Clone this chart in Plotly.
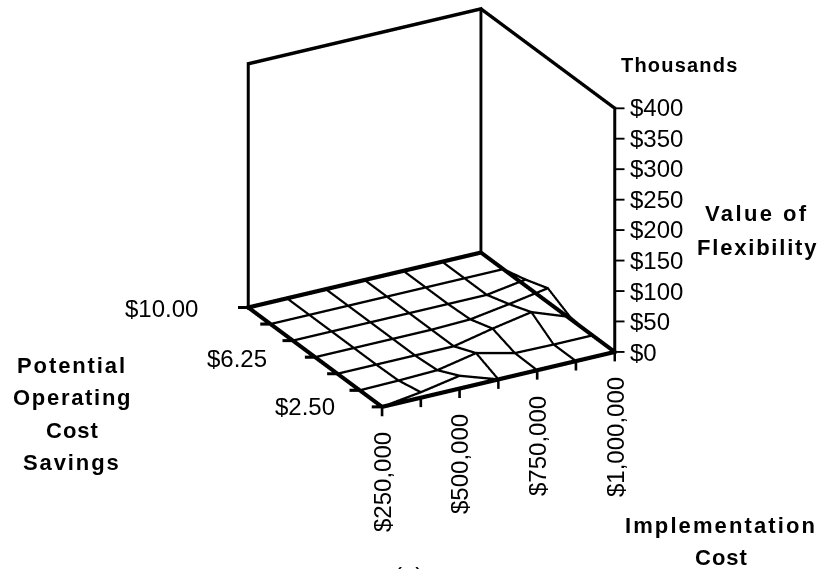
import math
import plotly.graph_objects as go

implementation_cost = [250000, 375000, 500000, 625000, 750000, 875000, 1000000]
operating_savings = [2.50, 3.75, 5.00, 6.25, 7.50, 8.75, 10.00]
# value of flexibility in $ thousands; rows follow operating_savings, columns implementation_cost
flexibility_value = [
    [0, 9, 21, 0, 0, 0, 0],
    [0, 1, 3, 16, 1, 0, 0],
    [0, 0, 0, 0, 14, 26, 3],
    [0, 0, 0, 0, 2, 12, 23],
    [0, 0, 0, 0, 0, 0, 10],
    [0, 0, 0, 0, 0, 0, 0],
    [0, 0, 0, 0, 0, 0, 0],
]
value_ticks = [0, 50, 100, 150, 200, 250, 300, 350, 400]
value_labels = ["$0", "$50", "$100", "$150", "$200", "$250", "$300", "$350", "$400"]

W, H = 820, 569
X0, X1 = implementation_cost[0], implementation_cost[-1]
Y0, Y1 = operating_savings[0], operating_savings[-1]
Z1 = value_ticks[-1]
PAD = 0.1
xrange_ = [X0 - PAD * (X1 - X0), X1 + PAD * (X1 - X0)]
yrange_ = [Y0 - PAD * (Y1 - Y0), Y1 + PAD * (Y1 - Y0)]
zrange_ = [-300, 448.4]

ALPHA = math.radians(29.41)
PHI = math.radians(24.75)
DIST = 2.0
SHRINK = 1 / 1.065
FRONT_PX, RIGHT_PX = 267.5, 272.9
dx_px = (X1 - X0) / FRONT_PX
dy_px = (Y1 - Y0) / RIGHT_PX
dz_px = Z1 / 244.0 / math.cos(PHI)
dz_screen = Z1 / 244.0
eye_dir = (-math.sin(ALPHA) * math.cos(PHI), -math.cos(ALPHA) * math.cos(PHI), math.sin(PHI))


def side(px):
    """Data offset that moves a point px pixels sideways on screen."""
    return px * math.cos(ALPHA) * dx_px, -px * math.sin(ALPHA) * dy_px


class Ribbons:
    """Flat camera-facing strips: WebGL line widths are not honoured everywhere."""

    def __init__(self, width):
        self.half = width / 2.0
        self.x, self.y, self.z, self.i, self.j, self.k = [], [], [], [], [], []

    def add(self, *pts):
        for p, q in zip(pts[:-1], pts[1:]):
            d = ((q[0] - p[0]) / dx_px, (q[1] - p[1]) / dy_px, (q[2] - p[2]) / dz_px)
            n = math.sqrt(sum(v * v for v in d))
            if n == 0:
                continue
            d = tuple(v / n for v in d)
            w = eye_dir
            c = (d[1] * w[2] - d[2] * w[1], d[2] * w[0] - d[0] * w[2], d[0] * w[1] - d[1] * w[0])
            m = math.sqrt(sum(v * v for v in c))
            c = tuple(v / m * self.half for v in c)
            e = tuple(v * self.half for v in d)
            base = len(self.x)
            for (pt, sgn_e) in ((p, -1), (q, 1)):
                for sgn_c in (-1, 1):
                    self.x.append(pt[0] + (sgn_e * e[0] + sgn_c * c[0]) * dx_px)
                    self.y.append(pt[1] + (sgn_e * e[1] + sgn_c * c[1]) * dy_px)
                    self.z.append(pt[2] + (sgn_e * e[2] + sgn_c * c[2]) * dz_px)
            self.i += [base, base + 1]
            self.j += [base + 1, base + 3]
            self.k += [base + 2, base + 2]

    def trace(self):
        return go.Mesh3d(x=self.x, y=self.y, z=self.z, i=self.i, j=self.j, k=self.k,
                         color="black", flatshading=True, hoverinfo="skip", showscale=False,
                         lighting=dict(ambient=1, diffuse=0, specular=0, fresnel=0, roughness=1))


grid = Ribbons(2.0)
for j, s in enumerate(operating_savings):
    grid.add(*[(c, s, flexibility_value[j][i]) for i, c in enumerate(implementation_cost)])
for i, c in enumerate(implementation_cost):
    grid.add(*[(c, s, flexibility_value[j][i]) for j, s in enumerate(operating_savings)])

floor = Ribbons(3.6)
floor.add((X0, Y1, 0), (X0, Y0, 0), (X1, Y0, 0), (X1, Y1, 0), (X0, Y1, 0))
walls = Ribbons(3.0)
walls.add((X0, Y1, 0), (X0, Y1, Z1), (X1, Y1, Z1), (X1, Y0, Z1), (X1, Y0, 0))
walls.add((X1, Y1, 0), (X1, Y1, Z1))

ticks = Ribbons(2.6)
for c in implementation_cost:
    ticks.add((c, Y0, 0), (c, Y0, -8 * dz_screen))
for s in operating_savings:
    ox, oy = side(-9)
    ticks.add((X0, s, 0), (X0 + ox, s + oy, 0))
fine = Ribbons(1.6)
for v in value_ticks:
    ox, oy = side(9)
    fine.add((X1, Y0, v), (X1 + ox, Y0 + oy, v))

fig = go.Figure([r.trace() for r in (grid, floor, walls, ticks, fine)])


def note(text, px, py, size=24, bold=False, angle=0, xanchor="center", spacing=0):
    if spacing:
        text = f'<span style="letter-spacing:{spacing}px">{text}</span>'
    if bold:
        text = f"<b>{text}</b>"
    fig.add_annotation(text=text, x=px / W, y=1 - py / H,
                       xref="paper", yref="paper", showarrow=False, textangle=angle,
                       xanchor=xanchor, yanchor="middle",
                       font=dict(family="Liberation Sans", size=size, color="black"))


for k, lab in enumerate(value_labels):
    note(lab, 628, 352 - 244 * value_ticks[k] / Z1, xanchor="left")
note("$10.00", 200, 308, xanchor="right")
note("$6.25", 269, 358, xanchor="right")
note("$2.50", 337, 407, xanchor="right")
note("$250,000", 382, 482, angle=-90)
note("$500,000", 459, 464, angle=-90)
note("$750,000", 537, 446, angle=-90)
note("$1,000,000", 615, 437, angle=-90)
note("Thousands", 679, 65, size=20, bold=True, spacing=1.2)
note("Value of", 757, 213, size=22, bold=True, spacing=2.4)
note("Flexibility", 757, 247, size=22, bold=True, spacing=1.8)
for t, y, sp in (("Potential", 365, 1.9), ("Operating", 398, 1.7), ("Cost", 430, 1.0), ("Savings", 462, 1.9)):
    note(t, 72, y, size=22, bold=True, spacing=sp)
note("Implementation", 721, 525, size=22, bold=True, spacing=2.1)
note("Cost", 721, 557, size=22, bold=True, spacing=1.0)
note("(a)", 408, 575)

hidden = dict(visible=False, showgrid=False, zeroline=False, showbackground=False,
              showspikes=False)
fig.update_layout(
    width=W, height=H, margin=dict(l=0, r=0, t=0, b=0), autosize=False,
    paper_bgcolor="white", showlegend=False,
    scene=dict(
        domain=dict(x=[43 / W, 1], y=[0, 1]),
        xaxis=dict(range=xrange_, **hidden),
        yaxis=dict(range=yrange_, **hidden),
        zaxis=dict(range=zrange_, **hidden),
        aspectmode="manual",
        aspectratio=dict(x=1.2 * SHRINK, y=1.224 * SHRINK,
                         z=1.0045 * SHRINK * (zrange_[1] - zrange_[0]) / Z1),
        bgcolor="white",
        dragmode=False,
        camera=dict(
            projection=dict(type="orthographic"),
            up=dict(x=0, y=0, z=1),
            center=dict(x=0, y=0, z=0),
            eye=dict(x=DIST * eye_dir[0], y=DIST * eye_dir[1], z=DIST * eye_dir[2]),
        ),
    ),
)
fig.write_html("out.html", config=dict(displayModeBar=False),
               post_script="document.body.style.margin='0';document.body.style.overflow='hidden';")
